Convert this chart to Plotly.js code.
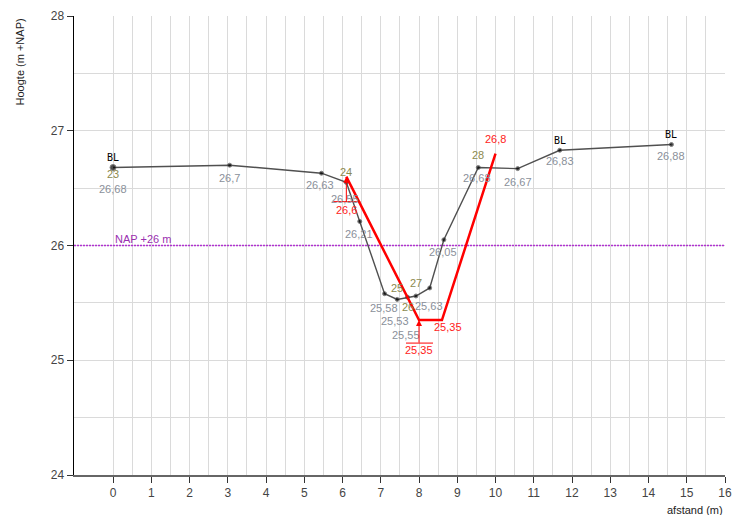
<!DOCTYPE html>
<html>
<head>
<meta charset="utf-8">
<script src="https://cdn.plot.ly/plotly-3.0.1.min.js"></script>
<style>html,body{margin:0;padding:0;background:#fff}#chart{width:732px;height:515px}</style>
</head>
<body>
<div id="chart"></div>
<script>
// ---- data ----
const profX  = [0, 3.05, 5.45, 6.1, 6.45, 7.1, 7.43, 7.7, 7.92, 8.28, 8.65, 9.55, 10.58, 11.68, 14.6];
const profY  = [26.68, 26.7, 26.63, 26.55, 26.21, 25.58, 25.53, 25.55, 25.56, 25.63, 26.05, 26.68, 26.67, 26.83, 26.88];
const profNr = ['23', '', '', '24', '', '', '25', '26', '27', '', '', '28', '', '', ''];
const profCode = ['BL', '', '', '', '', '', '', '', '', '', '', '', '', 'BL', 'BL'];
const designX = [6.1, 8.0, 8.6, 10.0];
const designY = [26.6, 25.35, 25.35, 26.8];
const napLevel = 26;
const napLabel = 'NAP +26 m';
const xTicks = [0,1,2,3,4,5,6,7,8,9,10,11,12,13,14,15,16];
const xMinor = [0.5,1.5,2.5,3.5,4.5,5.5,6.5,7.5,8.5,9.5,10.5,11.5,12.5,13.5,14.5,15.5];

// ---- label styling (pixel offsets, null = hidden) ----
const valOff = [[0,22],[0,13],[-1,12],[-1,17],[-1,13],[-1,14],[-2,22],[-2,38],null,[-1,18],[-1,12],[-1,11],[0,13],[0,11],[0,11]];
const nrOff  = [[0,7],null,null,[0,-10],null,null,[0,-11],[0,10],[0,-13],null,null,[0,-12],null,null,null];
const designLblOff = [{arrow:33, bar:25}, {arrow:30, bar:23}, [6,7], [0,-15]];

const fmt = v => String(v).replace('.', ',');
const FONT = 'Liberation Sans, Arial, sans-serif';
const grayTxt = '#8a909a', oliveTxt = '#8c8a4e', redTxt = '#ff1a1a';

const annotations = [];
const shapes = [];

profX.forEach((x, i) => {
  const y = profY[i];
  if (valOff[i]) annotations.push({x, y, xref:'x', yref:'y', text: fmt(y), showarrow:false,
    xshift: valOff[i][0], yshift: -valOff[i][1], font:{family:FONT, size:11, color:grayTxt}});
  if (nrOff[i] && profNr[i]) annotations.push({x, y, xref:'x', yref:'y', text: profNr[i], showarrow:false,
    xshift: nrOff[i][0], yshift: -nrOff[i][1], font:{family:FONT, size:11, color:oliveTxt}});
  if (profCode[i]) annotations.push({x, y, xref:'x', yref:'y', text: profCode[i], showarrow:false,
    yshift: 10, font:{family:'DejaVu Sans Mono, monospace', size:10, color:'#000'}});
});

designX.forEach((x, i) => {
  const y = designY[i];
  const o = designLblOff[i];
  if (Array.isArray(o)) {
    annotations.push({x, y, xref:'x', yref:'y', text: fmt(y), showarrow:false,
      xshift:o[0], yshift:-o[1], font:{family:FONT, size:11, color:redTxt}});
  } else {
    annotations.push({x, y, xref:'x', yref:'y', text: fmt(y), showarrow:true,
      ax:0, ay:o.arrow, arrowhead:2, arrowsize:1.2, arrowwidth:1, arrowcolor:'#ff0000', standoff:0,
      font:{family:FONT, size:11, color:redTxt}});
    shapes.push({type:'line', xref:'x', yref:'y', xsizemode:'pixel', ysizemode:'pixel', layer:'above',
      xanchor:x, yanchor:y, x0:-13, x1:14, y0:-o.bar, y1:-o.bar, line:{color:'#ff0000', width:1}});
  }
});

annotations.push({x:0, y:napLevel, xref:'x', yref:'y', text:napLabel, showarrow:false,
  xanchor:'left', yanchor:'bottom', yshift:-1, font:{family:FONT, size:11, color:'#9a2fb0'}});
annotations.push({xref:'paper', yref:'paper', x:-0.083, y:1.0, xanchor:'center', yanchor:'top',
  text:'Hoogte (m +NAP)', textangle:-90, showarrow:false, font:{family:FONT, size:11, color:'#222'}});
annotations.push({xref:'paper', yref:'paper', x:1.0, y:-0.076, xanchor:'right', yanchor:'middle',
  text:'afstand (m)', showarrow:false, font:{family:FONT, size:11, color:'#222'}});

const traces = [
  {x:[-1.02, 16], y:[napLevel, napLevel], mode:'lines', line:{color:'#b030d0', width:1.3, dash:'2px,1px'}, hoverinfo:'skip'},
  {x:profX, y:profY, mode:'lines+markers', line:{color:'#505050', width:1.4},
   marker:{color:'#000', size:profX.map((_, i) => i === 0 ? 6 : 4)}},
  {x:designX, y:designY, mode:'lines', line:{color:'#ff0000', width:2.5}}
];

const layout = {
  width:732, height:515,
  margin:{l:74, r:7, t:16, b:40},
  paper_bgcolor:'#fff', plot_bgcolor:'#fff',
  showlegend:false,
  font:{family:FONT, size:12, color:'#333'},
  xaxis:{range:[-1.02, 16], tickmode:'array', tickvals:xTicks, ticktext:xTicks.map(String),
    showgrid:true, gridcolor:'#dadada', gridwidth:1,
    minor:{tickmode:'array', tickvals:xMinor, showgrid:true, gridcolor:'#dadada', ticks:''},
    showline:true, linecolor:'#666', linewidth:1.5, ticks:'outside', ticklen:6, tickcolor:'#333',
    zeroline:false, tickfont:{family:FONT, size:12, color:'#444'}},
  yaxis:{range:[24, 28], tickmode:'linear', tick0:24, dtick:1,
    showgrid:true, gridcolor:'#dadada', gridwidth:1,
    minor:{dtick:0.5, tick0:24, showgrid:true, gridcolor:'#dadada', ticks:''},
    showline:true, linecolor:'#000', linewidth:1.5, ticks:'outside', ticklen:6, tickcolor:'#333',
    zeroline:false, tickfont:{family:FONT, size:12, color:'#444'}},
  annotations, shapes
};

Plotly.newPlot('chart', traces, layout, {staticPlot:true, displayModeBar:false});
</script>
</body>
</html>
